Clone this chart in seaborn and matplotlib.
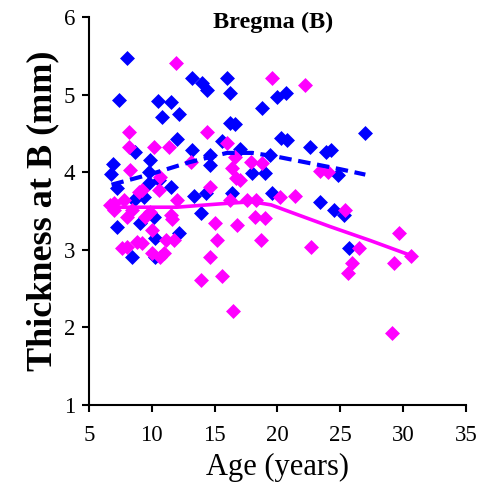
import matplotlib
matplotlib.use("Agg")
import matplotlib.pyplot as plt
import seaborn as sns
import pandas as pd

# Blue group: age (years) and bregma thickness (mm)
blue_age = [8.0, 7.4, 10.5, 11.5, 10.8, 12.2, 13.2, 14.0, 14.4, 16.0, 16.2, 20.0,
            20.7, 18.8, 16.2, 16.6, 20.3, 20.8, 22.6, 23.9, 24.3, 27.0, 13.2, 14.6,
            14.6, 15.6, 17.0, 19.4, 18.0, 19.0, 24.8, 23.4, 19.6, 24.5, 25.3, 25.7,
            12.05, 8.7, 6.9, 6.8, 9.9, 9.8, 9.8, 10.6, 11.5, 8.6, 9.4, 7.2,
            7.2, 9.1, 10.2, 12.2, 8.4, 10.3, 10.3, 13.4, 14.3, 13.9, 16.4]
blue_thk = [5.47, 4.93, 4.92, 4.90, 4.71, 4.75, 5.21, 5.15, 5.06, 5.21, 5.02, 4.97,
            5.02, 4.83, 4.63, 4.62, 4.44, 4.42, 4.33, 4.26, 4.29, 4.50, 4.29, 4.22,
            4.10, 4.40, 4.30, 4.22, 3.99, 3.99, 3.96, 3.62, 3.73, 3.51, 3.45, 3.02,
            4.43, 4.26, 4.11, 3.98, 4.16, 4.00, 3.86, 3.90, 3.81, 3.64, 3.68, 3.80,
            3.29, 3.35, 3.42, 3.22, 2.91, 3.15, 2.91, 3.70, 3.73, 3.47, 3.73]

# Magenta group
pink_age = [11.9, 8.2, 8.2, 10.2, 11.4, 8.3, 19.6, 22.2, 14.4, 16.0, 16.6, 17.9,
            18.8, 13.1, 16.4, 23.4, 24.0, 20.2, 21.4, 25.4, 26.5, 25.9, 25.6, 29.7,
            29.3, 30.6, 29.1, 10.7, 9.2, 7.0, 7.8, 7.0, 8.4, 9.9, 12.0, 11.5,
            8.0, 9.5, 11.6, 10.0, 11.1, 11.8, 8.0, 9.2, 10.0, 11.0, 7.6, 8.8,
            10.7, 9.0, 10.6, 13.9, 14.6, 15.0, 16.8, 15.2, 14.6, 15.6, 16.5, 18.2,
            19.0, 18.7, 22.7, 16.2, 17.6, 18.3, 16.7, 17.0, 6.7]
pink_thk = [5.41, 4.52, 4.33, 4.33, 4.33, 4.03, 5.21, 5.12, 4.52, 4.38, 4.20, 4.13,
            4.12, 4.13, 4.05, 4.02, 4.00, 3.68, 3.70, 3.52, 3.02, 2.83, 2.70, 3.22,
            2.83, 2.92, 1.93, 3.94, 3.77, 3.60, 3.64, 3.51, 3.51, 3.49, 3.64, 3.45,
            3.42, 3.42, 3.40, 3.25, 3.13, 3.13, 3.04, 3.09, 2.96, 2.96, 3.02, 3.10,
            2.91, 3.75, 3.77, 2.61, 3.81, 3.35, 3.32, 3.13, 2.91, 2.66, 2.21, 3.42,
            3.41, 3.13, 3.04, 3.64, 3.64, 3.64, 3.92, 3.90, 3.58]

# Trend curves for each group
blue_trend_age = [6.8, 10.0, 13.0, 16.0, 18.0, 20.0, 22.5, 25.0, 27.0]
blue_trend_thk = [3.84, 3.98, 4.13, 4.25, 4.25, 4.20, 4.12, 4.04, 3.97]
pink_trend_age = [6.7, 12.0, 16.0, 18.0, 19.5, 21.0, 24.2, 27.4, 30.6]
pink_trend_thk = [3.55, 3.55, 3.60, 3.62, 3.58, 3.49, 3.30, 3.12, 2.93]

x_ticks = [5, 10, 15, 20, 25, 30, 35]
y_ticks = [1, 2, 3, 4, 5, 6]

BLUE = "#0000FF"
PINK = "#FF00FF"

sns.set_style("white")
plt.rcParams["font.family"] = ["Liberation Serif", "DejaVu Serif"]
plt.rcParams["text.color"] = "black"
plt.rcParams["axes.labelcolor"] = "black"
plt.rcParams["xtick.color"] = "black"
plt.rcParams["ytick.color"] = "black"

fig = plt.figure(figsize=(4.83, 4.94), dpi=100)
ax = fig.add_axes([0.184, 0.180, 0.7805, 0.7854])

blue_df = pd.DataFrame({"age": blue_age, "thk": blue_thk})
pink_df = pd.DataFrame({"age": pink_age, "thk": pink_thk})

sns.scatterplot(data=blue_df, x="age", y="thk", marker="D", s=58, color=BLUE,
                linewidth=0, ax=ax, zorder=3)
sns.scatterplot(data=pink_df, x="age", y="thk", marker="D", s=58, color=PINK,
                linewidth=0, ax=ax, zorder=3)

blue_tr = pd.DataFrame({"age": blue_trend_age, "thk": blue_trend_thk})
pink_tr = pd.DataFrame({"age": pink_trend_age, "thk": pink_trend_thk})
sns.lineplot(data=blue_tr, x="age", y="thk", color=BLUE, linewidth=3.0,
             sort=True, ax=ax, zorder=4, linestyle=(0, (3, 1.6)))
sns.lineplot(data=pink_tr, x="age", y="thk", color=PINK, linewidth=2.6,
             sort=True, ax=ax, zorder=4)

ax.set_xlim(5, 35)
ax.set_ylim(1, 6)
ax.set_xticks(x_ticks)
ax.set_yticks(y_ticks)
ax.tick_params(axis="both", direction="out", length=5, width=1.5,
               labelsize=16.5, color="black", labelcolor="black")
ax.tick_params(axis="x", pad=9)
ax.tick_params(axis="y", pad=5)
ax.tick_params(left=True, bottom=True)

for side in ["top", "right"]:
    ax.spines[side].set_visible(False)
for side in ["left", "bottom"]:
    ax.spines[side].set_color("black")
    ax.spines[side].set_linewidth(1.5)

ax.set_xlabel("Age (years)", fontsize=22, labelpad=5, color="black")
ax.set_ylabel("Thickness at B (mm)", fontsize=26, fontweight="bold",
              labelpad=3, color="black")
ax.text(0.488, 0.987, "Bregma (B)", transform=ax.transAxes, ha="center",
        va="center", fontsize=17.5, fontweight="bold", color="black")

fig.savefig("out.png", dpi=100)
